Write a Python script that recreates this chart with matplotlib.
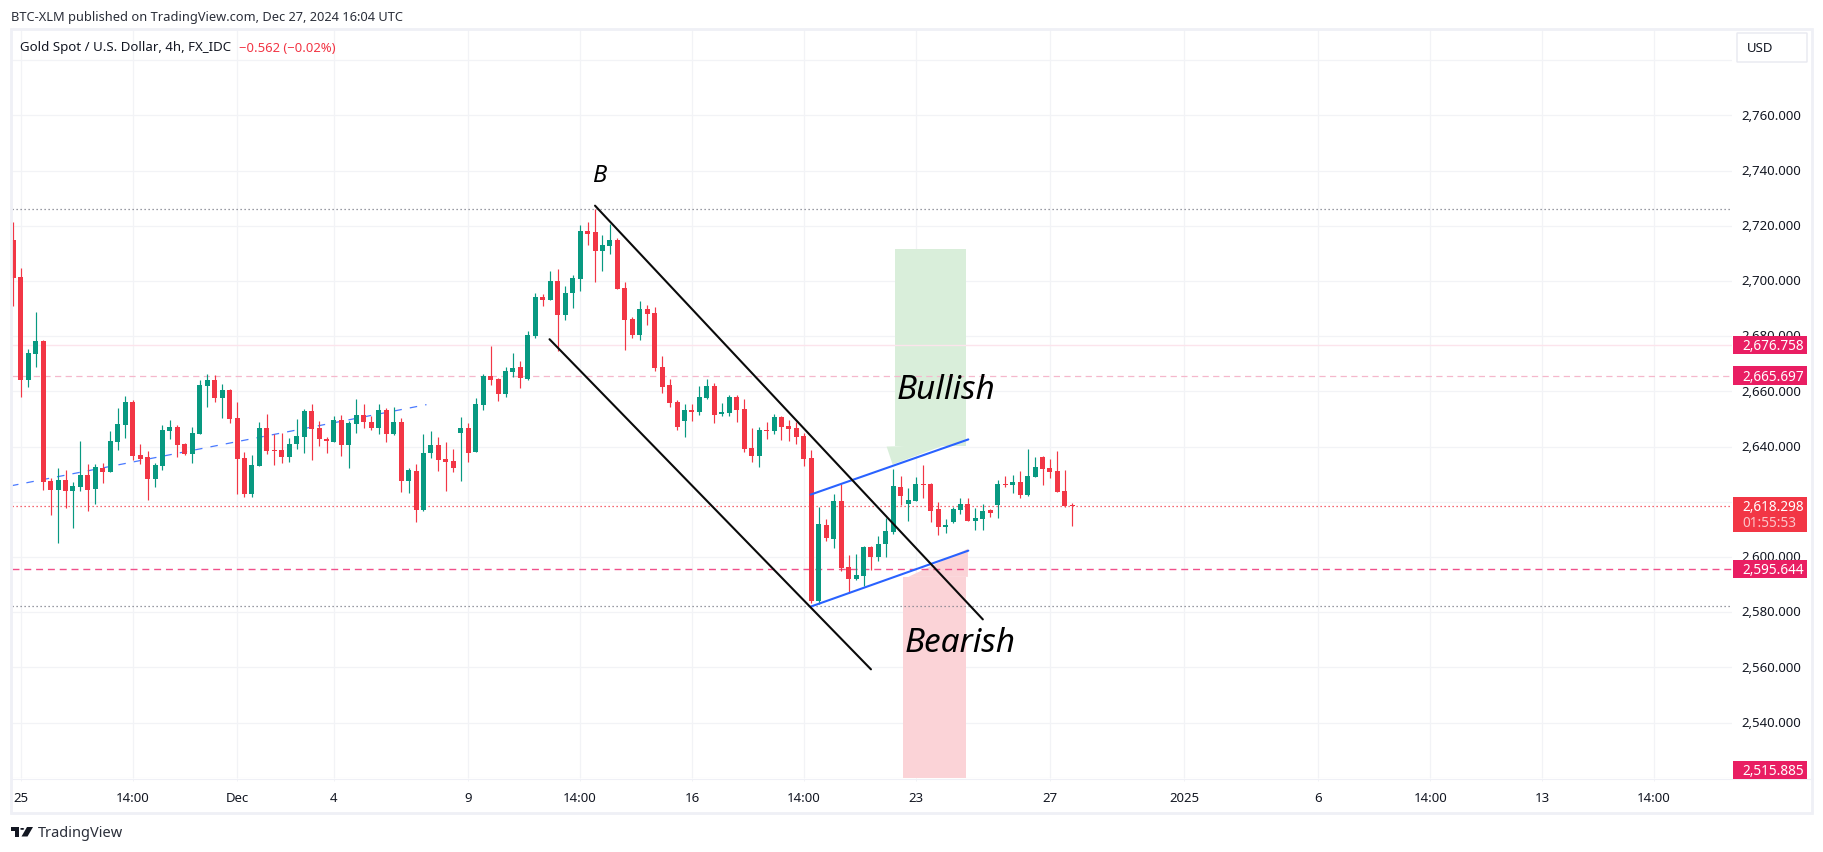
import matplotlib
matplotlib.use("Agg")
import matplotlib.pyplot as plt
from matplotlib.patches import Rectangle, Polygon, FancyBboxPatch
from matplotlib.transforms import ScaledTranslation
import numpy as np

W, H = 1824, 853
FONT = "Noto Sans"
plt.rcParams["font.family"] = FONT

opens = [2714.8,2701.4,2664.1,2673.5,2678.3,2627.5,2624.3,2627.9,2623.9,2625.4,
 2629.7,2624.6,2632.2,2630.8,2641.7,2647.8,2656.2,2636.9,2636.2,2628.3,
 2633.0,2645.6,2647.1,2640.9,2637.3,2644.6,2661.9,2664.1,2657.6,2660.5,
 2650.4,2635.9,2622.8,2633.0,2646.7,2638.8,2638.8,2636.2,2640.9,2643.5,
 2652.9,2646.7,2642.7,2641.7,2649.6,2640.6,2648.2,2651.4,2648.9,2646.7,
 2653.3,2644.6,2648.9,2627.5,2631.2,2617.0,2637.7,2640.6,2635.5,2634.8,
 2644.9,2646.7,2638.0,2655.1,2665.6,2664.5,2659.0,2667.0,2668.8,2664.5,
 2680.1,2694.2,2693.1,2700.0,2687.7,2695.6,2700.7,2718.1,2717.7,2710.9,
 2712.7,2714.8,2697.5,2686.2,2680.4,2689.8,2688.4,2668.8,2662.3,2656.2,
 2649.3,2653.3,2652.5,2657.6,2661.9,2651.8,2652.2,2658.0,2653.6,2639.5,
 2636.6,2646.0,2645.6,2650.7,2647.5,2646.7,2643.8,2635.9,2584.1,2611.6,
 2606.5,2620.3,2596.4,2592.0,2593.1,2603.6,2600.0,2604.7,2609.0,2625.4,
 2619.2,2620.3,2626.4,2626.4,2617.4,2610.9,2612.7,2617.0,2619.2,2613.0,
 2613.8,2617.0,2618.8,2626.4,2626.1,2627.2,2622.5,2629.0,2636.2,2632.2,
 2631.2,2623.9,2618.5]
closes = [2701.1,2664.1,2673.9,2678.3,2627.2,2624.3,2627.9,2623.9,2625.7,2629.7,
 2624.3,2632.6,2630.8,2642.0,2648.2,2656.2,2636.6,2635.5,2628.3,2633.3,
 2646.0,2647.1,2640.6,2637.3,2644.9,2662.3,2664.1,2657.6,2660.5,2650.0,
 2635.5,2622.8,2633.3,2646.7,2638.4,2638.4,2636.2,2640.9,2643.8,2652.9,
 2646.4,2642.7,2642.0,2649.6,2640.6,2648.5,2651.4,2648.9,2646.7,2653.3,
 2644.6,2648.9,2627.5,2631.5,2617.0,2637.7,2640.6,2635.1,2634.4,2632.2,
 2646.7,2637.7,2655.4,2665.6,2664.1,2659.0,2667.4,2668.5,2664.8,2680.4,
 2694.2,2693.1,2700.0,2687.7,2695.6,2701.1,2718.1,2717.0,2710.9,2713.0,
 2714.8,2697.1,2685.9,2680.4,2689.8,2688.0,2668.5,2661.6,2655.8,2647.1,
 2653.3,2652.5,2658.0,2661.9,2651.4,2652.5,2658.0,2653.3,2639.1,2636.6,
 2646.0,2645.6,2650.7,2647.1,2646.4,2643.5,2635.5,2584.1,2611.9,2606.9,
 2620.3,2596.0,2592.0,2593.5,2603.6,2600.0,2604.7,2609.4,2625.7,2622.1,
 2620.6,2626.4,2626.1,2616.7,2610.9,2611.6,2617.4,2619.2,2613.0,2614.1,
 2616.7,2615.9,2626.4,2626.1,2627.2,2622.5,2629.3,2632.6,2631.9,2630.8,
 2623.5,2618.5,2618.3]
highs = [2721.4,2704.7,2675.4,2688.8,2678.6,2628.6,2632.2,2631.5,2627.0,2642.0,
 2633.7,2633.7,2634.0,2645.6,2654.0,2658.3,2656.9,2640.9,2638.4,2634.0,
 2647.8,2649.6,2647.8,2641.3,2647.1,2664.1,2666.3,2665.9,2662.7,2660.9,
 2656.2,2638.0,2636.9,2648.9,2651.8,2644.6,2644.9,2643.1,2650.0,2653.6,
 2655.4,2649.3,2643.5,2651.1,2651.4,2649.3,2657.2,2655.4,2651.1,2655.4,
 2654.0,2654.3,2650.4,2632.2,2633.7,2644.6,2645.6,2643.5,2641.7,2639.1,
 2650.7,2648.5,2657.6,2666.3,2676.4,2664.8,2668.8,2673.9,2671.0,2681.9,
 2695.6,2695.3,2703.6,2704.3,2698.2,2702.2,2720.3,2721.4,2726.0,2716.7,
 2720.6,2715.4,2699.6,2686.9,2692.7,2691.3,2690.6,2672.8,2664.5,2656.9,
 2655.4,2655.4,2661.9,2664.5,2663.0,2655.8,2658.7,2658.7,2657.2,2646.7,
 2647.1,2648.9,2651.8,2651.1,2649.6,2648.9,2644.9,2638.8,2618.1,2613.8,
 2622.8,2626.4,2600.7,2601.1,2604.0,2604.0,2607.6,2614.1,2631.9,2629.3,
 2625.0,2629.0,2633.3,2626.8,2619.9,2613.8,2618.1,2621.4,2621.4,2617.7,
 2619.2,2617.4,2627.9,2629.3,2629.7,2631.2,2639.1,2636.2,2636.6,2635.5,
 2638.4,2631.5,2619.6]
lows = [2690.9,2658.0,2661.6,2668.8,2624.3,2615.2,2605.1,2617.7,2610.5,2623.9,
 2616.7,2619.2,2626.8,2630.8,2638.8,2643.1,2635.1,2633.7,2620.6,2625.4,
 2631.5,2642.7,2636.2,2636.9,2634.0,2644.6,2654.3,2656.2,2650.4,2648.5,
 2622.8,2621.7,2621.7,2633.0,2637.3,2633.3,2634.0,2634.4,2639.1,2637.7,
 2635.1,2640.2,2637.7,2641.7,2636.6,2632.2,2644.9,2646.7,2646.0,2644.6,
 2641.7,2644.2,2623.5,2623.2,2612.7,2616.7,2635.9,2631.2,2623.9,2630.8,
 2627.5,2634.4,2638.0,2653.3,2662.3,2656.5,2658.0,2665.2,2661.2,2664.1,
 2679.3,2690.9,2693.1,2674.6,2685.9,2690.2,2696.4,2713.0,2699.6,2703.6,
 2709.8,2697.1,2675.0,2679.3,2678.6,2684.0,2667.4,2659.4,2654.3,2646.0,
 2643.5,2649.3,2651.4,2657.2,2648.5,2651.1,2651.1,2648.9,2638.0,2634.4,
 2632.6,2642.7,2644.6,2642.4,2642.0,2640.9,2633.0,2583.3,2583.0,2605.8,
 2603.3,2594.9,2586.9,2591.7,2589.5,2595.3,2598.5,2600.0,2608.3,2618.8,
 2613.0,2620.3,2621.4,2612.7,2608.0,2608.7,2612.3,2615.6,2613.0,2609.8,
 2609.8,2614.5,2614.1,2625.4,2623.2,2621.4,2622.1,2629.0,2626.1,2628.6,
 2623.5,2618.1,2611.2]

x_tick_pos = [1,16,30,43,61,76,91,106,121,139,157,175,190,205,220]
x_tick_labels = ["25","14:00","Dec","4","9","14:00","16","14:00","23","27","2025","6","14:00","13","14:00"]
price_grid = list(range(2520, 2800, 20))
price_labels_shown = list(range(2540, 2780, 20))

level_high, level_low = 2726.0, 2582.1
level_solid, level_dash_soft, level_dash_strong, last_price = 2676.758, 2665.697, 2595.644, 2618.298
channel_top = ([78, 130], [2727.3, 2577.4])
channel_bottom = ([71.9, 115], [2678.9, 2559.3])
flag_top = ([106.9, 128.05], [2622.6, 2642.6])
flag_bottom = ([106.9, 128.05], [2582.0, 2602.3])
trend_dash = ([-0.3, 55.4], [2625.8, 2655.2])
green_box = (118.2, 127.8, 2640.2, 2711.6)
red_box = (119.3, 127.8, 2519.9, 2592.8)
green_head = [(117.1, 2640.0), (125.0, 2640.7), (117.9, 2633.5)]
red_head = [(120.0, 2592.8), (128.0, 2603.0), (128.0, 2592.8)]
tags = [(2676.758, "2,676.758"), (2665.697, "2,665.697"), (2595.644, "2,595.644"), (2522.8, "2,515.885")]

GREEN, RED, MAG = "#089981", "#f23645", "#e91e63"
GRID, FRAME = "#f2f3f6", "#eff0f6"
INK = "#131722"
BLUE = "#2962ff"

fig = plt.figure(figsize=(W/100, H/100), dpi=100, facecolor="white")
L, R, T, B = 12, 1732, 30, 779
ax = fig.add_axes([L/W, 1-B/H, (R-L)/W, (B-T)/H])
step = 7.458
ax.set_xlim((L-13.3)/step, (R-13.3)/step)
ax.set_ylim(2600-(B-558)/2.76, 2600+(558-T)/2.76)
for s in ax.spines.values():
    s.set_visible(False)
ax.set_axisbelow(True)

ax.yaxis.tick_right()
ax.set_yticks(price_grid)
ax.set_yticklabels([f"{v:,.3f}" if v in price_labels_shown else "" for v in price_grid],
                   fontsize=9.5, color=INK)
ax.set_xticks(x_tick_pos)
ax.set_xticklabels(x_tick_labels, fontsize=9.5, color=INK)
ax.tick_params(axis="y", length=0, pad=6.5)
ax.tick_params(axis="x", length=2, width=0.7, color=GRID, pad=7.4)
ax.grid(True, color=GRID, lw=0.9)
lift = ScaledTranslation(0, 1.8/72*0.72*100/100*72/72, fig.dpi_scale_trans)
for lab in ax.get_yticklabels():
    lab.set_transform(lab.get_transform() + lift)

ax.add_patch(Rectangle((green_box[0], green_box[2]), green_box[1]-green_box[0], green_box[3]-green_box[2],
                       fc="#d9eeda", ec="none", zorder=1.5))
ax.add_patch(Rectangle((red_box[0], red_box[2]), red_box[1]-red_box[0], red_box[3]-red_box[2],
                       fc="#fbd3d7", ec="none", zorder=1.5))
ax.add_patch(Polygon(green_head, fc="#d9eeda", ec="none", zorder=1.5))
ax.add_patch(Polygon(red_head, fc="#fbd3d7", ec="none", zorder=1.5))

dot = (0, (1, 2.2))
ax.axhline(level_high, color="#787b86", lw=0.9, ls=dot, zorder=2)
ax.axhline(level_low, color="#787b86", lw=0.9, ls=dot, zorder=2)
ax.axhline(level_solid, color="#fce4ec", lw=1.0, zorder=2)
ax.axhline(level_dash_soft, color="#f5b8cc", lw=0.9, ls=(0, (5, 3.5)), zorder=2)
ax.axhline(level_dash_strong, color="#f0508a", lw=1.0, ls=(0, (5, 3.5)), zorder=2)
ax.axhline(last_price, color=RED, lw=0.9, ls=dot, zorder=2)
ax.plot(*trend_dash, color=BLUE, lw=0.9, ls=(0, (6, 6.5)), alpha=0.85, zorder=2)

xs = np.arange(len(opens))
o, c, hi, lo = map(np.array, (opens, closes, highs, lows))
colors = [GREEN if cc >= oo else RED for oo, cc in zip(o, c)]
ax.vlines(xs, lo, hi, colors=colors, lw=0.85, zorder=3)
heights = np.maximum(np.abs(c-o), 0.4)
ax.bar(xs, heights, bottom=np.minimum(o, c), width=0.67, color=colors, lw=0, zorder=3)

ax.plot(*flag_top, color=BLUE, lw=1.5, zorder=4, solid_capstyle="round")
ax.plot(*flag_bottom, color=BLUE, lw=1.5, zorder=4, solid_capstyle="round")
ax.plot(*channel_top, color="#0a0a0a", lw=1.5, zorder=5, solid_capstyle="round")
ax.plot(*channel_bottom, color="#0a0a0a", lw=1.5, zorder=5, solid_capstyle="round")

ax.text(78.5, 2738.4, "B", fontsize=17, style="italic", color="black", ha="center", va="center", zorder=6)
ax.text(118.4, 2660.7, "Bullish", fontsize=24, style="italic", color="black", ha="left", va="center", zorder=6)
ax.text(119.5, 2569, "Bearish", fontsize=24, style="italic", color="black", ha="left", va="center", zorder=6)

# right price tags on an overlay axes sharing the price scale
axr = fig.add_axes([1733/W, 1-B/H, 74/W, (B-T)/H], facecolor="none", zorder=5)
axr.set_xlim(0, 1)
axr.set_ylim(ax.get_ylim())
axr.axis("off")
box_h = 18.6/2.76
for price, label in tags:
    axr.add_patch(Rectangle((0, price-box_h/2), 1, box_h, fc=MAG, ec="none", clip_on=False))
    axr.text(0.12, price-0.2, label, color="white", fontsize=9.8, fontweight="bold", va="center", ha="left")
axr.add_patch(Rectangle((0, last_price-9.1), 1, 12.6, fc=RED, ec="none", clip_on=False))
axr.text(0.12, last_price, "2,618.298", color="white", fontsize=9.8, fontweight="bold", va="center", ha="left")
axr.text(0.12, last_price-5.7, "01:55:53", color="#fcc5ca", fontsize=9.8, fontweight="bold", va="center", ha="left")

# page furniture, in figure pixels
def fx(p): return p/W
def fy(p): return 1-p/H
fig.add_artist(Rectangle((fx(10.8), fy(813.5)), (1812.5-10.8)/W, (813.5-30)/H, fc="none", ec=FRAME,
                         lw=2.0, transform=fig.transFigure))
fig.add_artist(plt.Line2D([fx(12), fx(1812)], [fy(779.5)]*2, color=FRAME, lw=0.8))
fig.text(fx(11.5), fy(17), "BTC-XLM published on TradingView.com, Dec 27, 2024 16:04 UTC",
         fontsize=9.22, color="#2a2e39", va="center", ha="left")
fig.text(fx(20), fy(48), "Gold Spot / U.S. Dollar, 4h, FX_IDC", fontsize=9.55, color=INK, va="center", ha="left")
fig.text(fx(239), fy(48), "\u22120.562 (\u22120.02%)", fontsize=9.4, color=RED, va="center", ha="left")
fig.text(fx(38), fy(834), "TradingView", fontsize=10.5, color="#2a2e39", va="center", ha="left")

fig.add_artist(FancyBboxPatch((fx(1737), fy(63)), 70/W, 29/H, boxstyle="round,pad=0", fc="white",
                              ec="#e8e9f0", lw=1.0, transform=fig.transFigure, zorder=6))
fig.text(fx(1747), fy(49), "USD", fontsize=9.5, color=INK, va="center", ha="left", zorder=7)

# TradingView mark
logo = dict(fc="#131722", ec="none", transform=fig.transFigure)
fig.add_artist(Polygon([(fx(11), fy(828)), (fx(19.5), fy(828)), (fx(19.5), fy(837.5)), (fx(15), fy(837.5)),
                        (fx(15), fy(832)), (fx(11), fy(832))], **logo))
fig.add_artist(plt.Circle((fx(22.2), fy(829.9)), 2/W, **logo))
fig.add_artist(Polygon([(fx(27), fy(828)), (fx(33), fy(828)), (fx(27.5), fy(837.5)), (fx(21.5), fy(837.5))], **logo))

fig.savefig("out.png", dpi=100, facecolor="white")
